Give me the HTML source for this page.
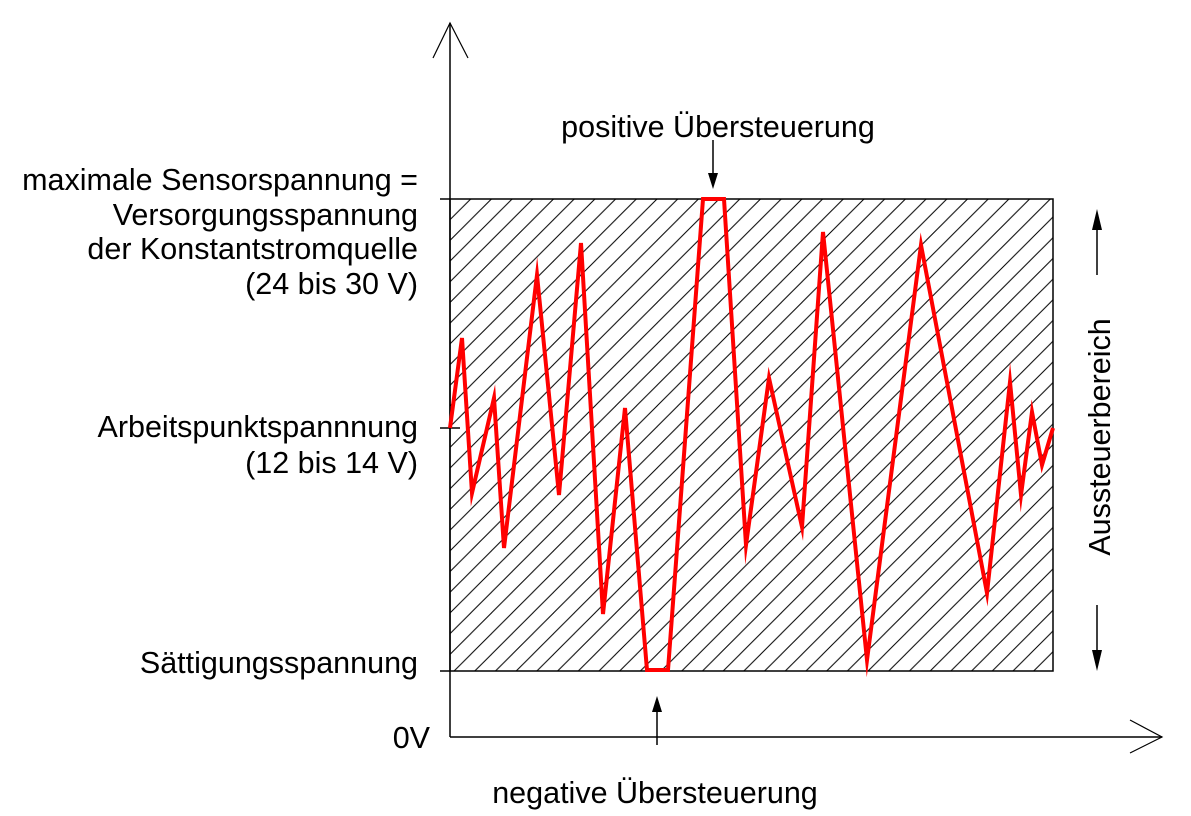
<!DOCTYPE html>
<html><head><meta charset="utf-8"><style>
html,body{margin:0;padding:0;background:#fff;}
svg{display:block;}
text{font-family:"Liberation Sans",sans-serif;font-size:30.5px;fill:#000;}
</style></head><body>
<svg width="1191" height="816" viewBox="0 0 1191 816" xmlns="http://www.w3.org/2000/svg">
<defs>
<pattern id="h" patternUnits="userSpaceOnUse" width="20.7" height="20.7" patternTransform="translate(450,199)">
<line x1="0" y1="20.7" x2="20.7" y2="0" stroke="#000" stroke-width="1"/>
<line x1="-2" y1="2" x2="2" y2="-2" stroke="#000" stroke-width="1"/>
<line x1="18.7" y1="22.7" x2="22.7" y2="18.7" stroke="#000" stroke-width="1"/>
</pattern>
</defs>
<rect x="450" y="199" width="603" height="472" fill="url(#h)" stroke="#000" stroke-width="1.5"/>
<line x1="450" y1="23" x2="450" y2="737" stroke="#000" stroke-width="1.5"/>
<polyline points="433,58 450,23 468,58" fill="none" stroke="#000" stroke-width="1.2"/>
<line x1="450" y1="737" x2="1162" y2="737" stroke="#000" stroke-width="1.5"/>
<polyline points="1130,720 1162,737 1130,753" fill="none" stroke="#000" stroke-width="1.2"/>
<line x1="440" y1="199" x2="450" y2="199" stroke="#000" stroke-width="1.5"/>
<line x1="440" y1="428" x2="460" y2="428" stroke="#000" stroke-width="1.5"/>
<line x1="440" y1="671" x2="450" y2="671" stroke="#000" stroke-width="1.5"/>
<polyline fill="none" stroke="#f00" stroke-width="4" stroke-linejoin="miter" stroke-miterlimit="10" points="450,428 462,338 472,493 494,398 504,548 537,275 559,495 581,243 603,614 625,408 647,670 668,670 703,199 724,199 746,545 769,378 802,527 823,232 867,660 921,245 987,593 1010,382 1021,495 1032,412 1042,465 1053,428"/>
<g text-anchor="end">
<text x="418" y="190">maximale Sensorspannung =</text>
<text x="418" y="225">Versorgungsspannung</text>
<text x="418" y="259">der Konstantstromquelle</text>
<text x="418" y="294">(24 bis 30 V)</text>
<text x="418" y="437">Arbeitspunktspannnung</text>
<text x="418" y="473">(12 bis 14 V)</text>
<text x="418" y="673">Sättigungsspannung</text>
<text x="430" y="748">0V</text>
</g>
<text x="718" y="137" text-anchor="middle">positive Übersteuerung</text>
<text x="655" y="803" text-anchor="middle">negative Übersteuerung</text>
<line x1="713" y1="140" x2="713" y2="175" stroke="#000" stroke-width="1.5"/>
<polygon points="708,173 718,173 713,189" fill="#000"/>
<line x1="657" y1="710" x2="657" y2="745" stroke="#000" stroke-width="1.5"/>
<polygon points="652,712 662,712 657,696" fill="#000"/>
<line x1="1097" y1="225" x2="1097" y2="275" stroke="#000" stroke-width="1.5"/>
<polygon points="1092,230 1102,230 1097,209" fill="#000"/>
<line x1="1097" y1="605" x2="1097" y2="655" stroke="#000" stroke-width="1.5"/>
<polygon points="1092,650 1102,650 1097,671" fill="#000"/>
<text transform="translate(1110,437) rotate(-90)" text-anchor="middle">Aussteuerbereich</text>
</svg>
</body></html>
